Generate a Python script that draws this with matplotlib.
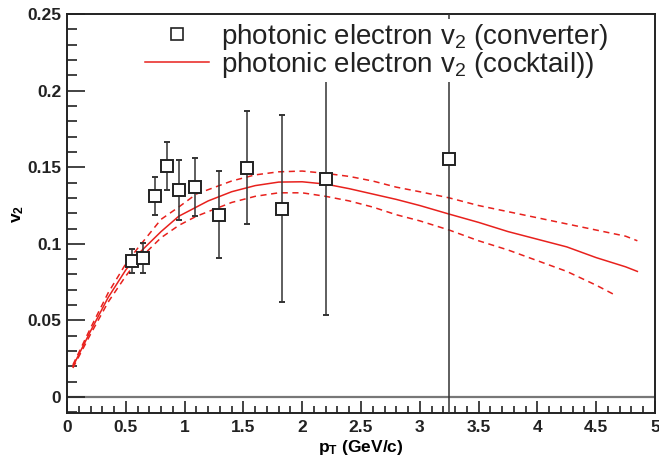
# coding:utf8
import numpy as np
import matplotlib
matplotlib.use("Agg")
import matplotlib.pyplot as plt
from matplotlib import rcParams
from matplotlib.ticker import MultipleLocator, FormatStrFormatter
from matplotlib.lines import Line2D

rcParams['font.family'] = ['Liberation Sans', 'DejaVu Sans']
rcParams['mathtext.fontset'] = 'custom'
rcParams['mathtext.rm'] = 'Liberation Sans'
rcParams['mathtext.bf'] = 'Liberation Sans:bold'
rcParams['mathtext.default'] = 'regular'

# converter data points
pt_conv = [0.55, 0.65, 0.75, 0.85, 0.95, 1.09, 1.29, 1.53, 1.83, 2.20, 3.25]
v2_conv = [0.0888, 0.0909, 0.131, 0.151, 0.1353, 0.137, 0.119, 0.1497, 0.1229, 0.142, 0.1553]
v2_err = [0.0077, 0.0098, 0.0124, 0.0157, 0.0195, 0.019, 0.0283, 0.0367, 0.061, 0.0885, 0.30]

# cocktail curve
pt_cock = [0.05, 0.2, 0.35, 0.5, 0.6, 0.8, 0.95, 1.2, 1.4, 1.6, 1.8, 2.0, 2.2, 2.4,
           2.6, 2.8, 3.0, 3.25, 3.5, 3.75, 4.0, 4.25, 4.5, 4.75, 4.85]
v2_cock = [0.020, 0.043, 0.065, 0.083, 0.093, 0.108, 0.118, 0.128, 0.134, 0.138, 0.1403,
           0.1405, 0.139, 0.136, 0.1325, 0.129, 0.125, 0.1194, 0.114, 0.108, 0.103,
           0.098, 0.091, 0.085, 0.082]

pt_up = [0.05, 0.2, 0.35, 0.5, 0.6, 0.8, 0.95, 1.1, 1.4, 1.6, 1.8, 2.0, 2.2, 2.4,
         2.6, 2.8, 3.0, 3.25, 3.5, 3.75, 4.0, 4.25, 4.5, 4.75, 4.85]
v2_up = [0.021, 0.045, 0.068, 0.087, 0.097, 0.116, 0.124, 0.1325, 0.141, 0.145, 0.147,
         0.1475, 0.146, 0.144, 0.141, 0.137, 0.134, 0.130, 0.125, 0.121, 0.117, 0.113,
         0.109, 0.105, 0.102]

pt_lo = [0.05, 0.2, 0.35, 0.5, 0.6, 0.8, 0.95, 1.1, 1.4, 1.6, 1.8, 2.0, 2.2, 2.4,
         2.6, 2.8, 3.0, 3.25, 3.5, 3.75, 4.0, 4.25, 4.5, 4.65]
v2_lo = [0.019, 0.041, 0.062, 0.079, 0.089, 0.104, 0.112, 0.118, 0.127, 0.131, 0.1333,
         0.1333, 0.131, 0.128, 0.124, 0.119, 0.115, 0.109, 0.102, 0.096, 0.089, 0.082,
         0.073, 0.067]

labels = [r"photonic electron v$_2$ (converter)",
          r"photonic electron v$_2$ (cocktail))"]

fig = plt.figure(figsize=(6.59, 4.57), dpi=100)
ax = fig.add_axes([67/659, 1-413/457, (655-67)/659, (413-14)/457])

red = '#e8211d'
ax.axhline(0, color='#777777', lw=1.6, zorder=1)
ax.plot(pt_cock, v2_cock, color=red, lw=1.1, zorder=2)
ax.plot(pt_up, v2_up, color=red, lw=1.1, ls=(0, (4, 3)), zorder=2)
ax.plot(pt_lo, v2_lo, color=red, lw=1.1, ls=(0, (4, 3)), zorder=2)
ax.errorbar(pt_conv, v2_conv, yerr=v2_err, fmt='s', ms=8, mfc='white', mec='#222222',
            mew=1.4, ecolor='#333333', elinewidth=1.1, capsize=2.5, capthick=1.1, zorder=3)

ax.set_xlim(0, 5)
ax.set_ylim(-0.0104, 0.25)

ax.xaxis.set_major_locator(MultipleLocator(0.5))
ax.xaxis.set_minor_locator(MultipleLocator(0.1))
ax.yaxis.set_major_locator(MultipleLocator(0.05))
ax.yaxis.set_minor_locator(MultipleLocator(0.01))
ax.xaxis.set_major_formatter(FormatStrFormatter('%g'))
ax.yaxis.set_major_formatter(FormatStrFormatter('%g'))
ax.tick_params(which='both', direction='in', top=False, right=False, colors='#222222',
               labelsize=12.5, width=1.2)
ax.tick_params(axis='x', which='major', length=9, pad=5)
ax.tick_params(axis='x', which='minor', length=5)
ax.tick_params(axis='y', which='major', length=13, pad=4)
ax.tick_params(axis='y', which='minor', length=7)
for lab in ax.get_xticklabels() + ax.get_yticklabels():
    lab.set_fontweight('bold')
for s in ax.spines.values():
    s.set_linewidth(1.4)
    s.set_color('#222222')

ax.set_xlabel(r"p$_T$ (GeV/c)", fontsize=12.5, fontweight='bold', labelpad=2)
ax.set_ylabel(r"v$_2$", fontsize=12.5, fontweight='bold', labelpad=1)

h1 = Line2D([], [], ls='none', marker='s', ms=8, mfc='white', mec='#222222', mew=1.2)
h2 = Line2D([], [], color=red, lw=1.1)
leg = ax.legend([h1, h2], labels,
                loc='upper left', bbox_to_anchor=(142/659, 1-19/457),
                bbox_transform=fig.transFigure, fontsize=20, frameon=True,
                facecolor='white', edgecolor='none', framealpha=1,
                handlelength=2.3, handletextpad=0.45, labelspacing=-0.08,
                borderpad=0.1, borderaxespad=0, fancybox=False)
for t in leg.get_texts():
    t.set_color('#222222')

plt.savefig("out.png", dpi=100)
